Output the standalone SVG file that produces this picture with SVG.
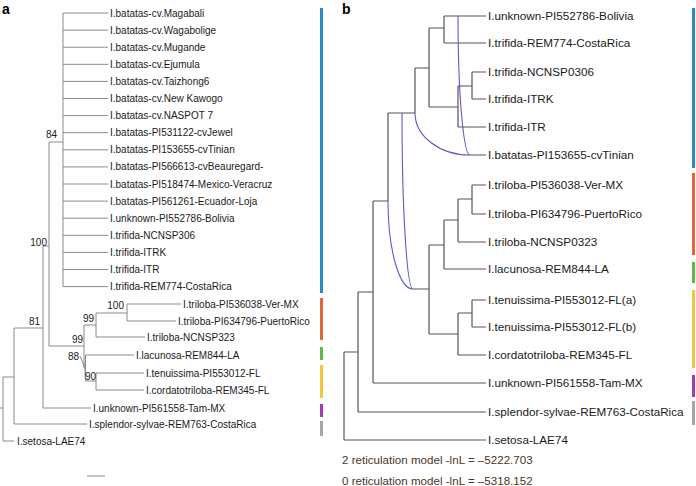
<svg xmlns="http://www.w3.org/2000/svg" width="696" height="486" viewBox="0 0 696 486">
<style>
text{font-family:"Liberation Sans",Arial,sans-serif;fill:#1a1a1a}
.la{font-size:10px}
.lb{font-size:11.7px}
.bs{font-size:10px}
.pl{font-size:14px;font-weight:bold;fill:#000}
.ta{fill:none;stroke:#8a8a8a;stroke-width:1}
.tb{fill:none;stroke:#555;stroke-width:1.2}
.ret{fill:none;stroke:#5a5ac8;stroke-width:1.1}
.lnl{font-size:11.6px;fill:#4e3426}
</style>
<rect width="696" height="486" fill="#fff"/>
<text class="pl" x="2" y="14">a</text>
<text class="pl" x="342" y="14">b</text>

<g id="connectors">
<path class="ta" d="M63,13H108M63,30.1H108M63,47.2H108M63,64.3H108M63,81.4H108M63,98.5H108M63,115.6H108M63,132.7H108M63,149.8H108M63,166.9H108M63,184H108M63,201.1H108M63,218.2H108M63,235.3H108M63,252.4H108M63,269.5H108M63,286.6H108M63,13V286.6
M49,142H63M49,142V346M43,246H49M43,246V408M14,328H43M14,328V424M3,377H14M3,377V441M0,408H3M3,441H14M14,424H87M43,408H91
M49,346H84M84,325V368M84,325H96M96,313V337M96,313H127M127,304V321M127,304H181M127,321H176M96,337H145
M84,368H85.5M85.5,355V381M85.5,355H134M85.5,381H96M96,373V390M96,373H144M96,390H144
M87,476H105"/>
<path class="ta" d="M80,356L84.5,367"/>
<path class="ta" stroke-width="2" d="M85,362V378"/>

<path class="tb" d="M444,16H486M444,43H486M444,16V43M429,28H444M429,28V107M429,107H458M458,86V127M458,86H472M458,127H486M472,72V99M472,72H486M472,99H486
M415,68H429M415,68V113M388,113H415M470,155H486M388,113V201M373,201H388M373,201V383M373,383H486M358,292H373M358,292V412M358,412H486M344,352H358M344,352V440M344,440H486
M413,289H429M429,245V334M429,245H444M444,220V269M444,269H486M444,220H458M458,199V242M458,242H486M458,199H472M472,185V214M472,185H486M472,214H486
M429,334H458M458,313V355M458,355H486M458,313H472M472,300V327M472,300H486M472,327H486"/>
<path class="ret" d="M415,113A55,42 0 0 0 470,155M458,16A12,139 0 0 0 470,155M388,201A25,88 0 0 0 413,289M402,113A11,176 0 0 0 413,289"/>
</g>

<g id="bootstrap">
<text class="bs" x="46" y="138">84</text>
<text class="bs" x="47" y="246" text-anchor="end">100</text>
<text class="bs" x="40" y="325" text-anchor="end">81</text>
<text class="bs" x="124" y="309" text-anchor="end">100</text>
<text class="bs" x="94" y="322" text-anchor="end">99</text>
<text class="bs" x="83" y="343" text-anchor="end">99</text>
<text class="bs" x="79" y="360" text-anchor="end">88</text>
<text class="bs" x="85" y="380">90</text>
</g>

<g id="leaves-a" class="la">
<g id="a1"><text class="la" x="110" y="16.5">I.batatas-cv.Magabali</text></g>
<g id="a2"><text class="la" x="110" y="33.6">I.batatas-cv.Wagabolige</text></g>
<g id="a3"><text class="la" x="110" y="50.7">I.batatas-cv.Mugande</text></g>
<g id="a4"><text class="la" x="110" y="67.8">I.batatas-cv.Ejumula</text></g>
<g id="a5"><text class="la" x="110" y="84.9">I.batatas-cv.Taizhong6</text></g>
<g id="a6"><text class="la" x="110" y="102">I.batatas-cv.New Kawogo</text></g>
<g id="a7"><text class="la" x="110" y="119.1">I.batatas-cv.NASPOT 7</text></g>
<g id="a8"><text class="la" x="110" y="136.2">I.batatas-PI531122-cvJewel</text></g>
<g id="a9"><text class="la" x="110" y="153.3">I.batatas-PI153655-cvTinian</text></g>
<g id="a10"><text class="la" x="110" y="170.4">I.batatas-PI566613-cvBeauregard-</text></g>
<g id="a11"><text class="la" x="110" y="187.5">I.batatas-PI518474-Mexico-Veracruz</text></g>
<g id="a12"><text class="la" x="110" y="204.6">I.batatas-PI561261-Ecuador-Loja</text></g>
<g id="a13"><text class="la" x="110" y="221.7">I.unknown-PI552786-Bolivia</text></g>
<g id="a14"><text class="la" x="110" y="238.8">I.trifida-NCNSP306</text></g>
<g id="a15"><text class="la" x="110" y="255.9">I.trifida-ITRK</text></g>
<g id="a16"><text class="la" x="110" y="273">I.trifida-ITR</text></g>
<g id="a17"><text class="la" x="110" y="290.1">I.trifida-REM774-CostaRica</text></g>
<g id="a18"><text class="la" x="183" y="307.5">I.triloba-PI536038-Ver-MX</text></g>
<g id="a19"><text class="la" x="178" y="324.5">I.triloba-PI634796-PuertoRico</text></g>
<g id="a20"><text class="la" x="147" y="340.5">I.triloba-NCNSP323</text></g>
<g id="a21"><text class="la" x="136" y="358.5">I.lacunosa-REM844-LA</text></g>
<g id="a22"><text class="la" x="146" y="376.5">I.tenuissima-PI553012-FL</text></g>
<g id="a23"><text class="la" x="146" y="393.5">I.cordatotriloba-REM345-FL</text></g>
<g id="a24"><text class="la" x="93" y="411.5">I.unknown-PI561558-Tam-MX</text></g>
<g id="a25"><text class="la" x="89" y="427.5">I.splendor-sylvae-REM763-CostaRica</text></g>
<g id="a26"><text class="la" x="17" y="444.5">I.setosa-LAE74</text></g>
</g>

<g id="bars-a">
<rect x="320" y="8" width="3" height="285" fill="#2b8cc4"/>
<rect x="320" y="298" width="3" height="42" fill="#e0663b"/>
<rect x="320" y="347" width="3" height="13" fill="#5cb943"/>
<rect x="320" y="365" width="3" height="33" fill="#f2c63f"/>
<rect x="320" y="404" width="3" height="13" fill="#a23cb4"/>
<rect x="320" y="421" width="3" height="15" fill="#a6a6a6"/>
</g>

<g id="leaves-b">
<g id="b1"><text class="lb" x="488" y="20">I.unknown-PI552786-Bolivia</text></g>
<g id="b2"><text class="lb" x="488" y="47">I.trifida-REM774-CostaRica</text></g>
<g id="b3"><text class="lb" x="488" y="76">I.trifida-NCNSP0306</text></g>
<g id="b4"><text class="lb" x="488" y="103">I.trifida-ITRK</text></g>
<g id="b5"><text class="lb" x="488" y="131">I.trifida-ITR</text></g>
<g id="b6"><text class="lb" x="488" y="159">I.batatas-PI153655-cvTinian</text></g>
<g id="b7"><text class="lb" x="488" y="189">I.triloba-PI536038-Ver-MX</text></g>
<g id="b8"><text class="lb" x="488" y="218">I.triloba-PI634796-PuertoRico</text></g>
<g id="b9"><text class="lb" x="488" y="246">I.triloba-NCNSP0323</text></g>
<g id="b10"><text class="lb" x="488" y="273">I.lacunosa-REM844-LA</text></g>
<g id="b11"><text class="lb" x="488" y="304">I.tenuissima-PI553012-FL(a)</text></g>
<g id="b12"><text class="lb" x="488" y="331">I.tenuissima-PI553012-FL(b)</text></g>
<g id="b13"><text class="lb" x="488" y="359">I.cordatotriloba-REM345-FL</text></g>
<g id="b14"><text class="lb" x="488" y="387">I.unknown-PI561558-Tam-MX</text></g>
<g id="b15"><text class="lb" x="488" y="416">I.splendor-sylvae-REM763-CostaRica</text></g>
<g id="b16"><text class="lb" x="488" y="444">I.setosa-LAE74</text></g>
</g>

<g id="bars-b">
<rect x="692" y="8" width="3" height="160" fill="#2b8cc4"/>
<rect x="692" y="173" width="3" height="82" fill="#e0663b"/>
<rect x="692" y="262" width="3" height="21" fill="#5cb943"/>
<rect x="692" y="290" width="3" height="78" fill="#f2c63f"/>
<rect x="692" y="375" width="3" height="22" fill="#a23cb4"/>
<rect x="692" y="401" width="3" height="24" fill="#a6a6a6"/>
</g>

<g id="likelihoods">
<text class="lnl" x="342" y="464">2 reticulation model -lnL = –5222.703</text>
<text class="lnl" x="342" y="485">0 reticulation model -lnL = –5318.152</text>
</g>
</svg>
